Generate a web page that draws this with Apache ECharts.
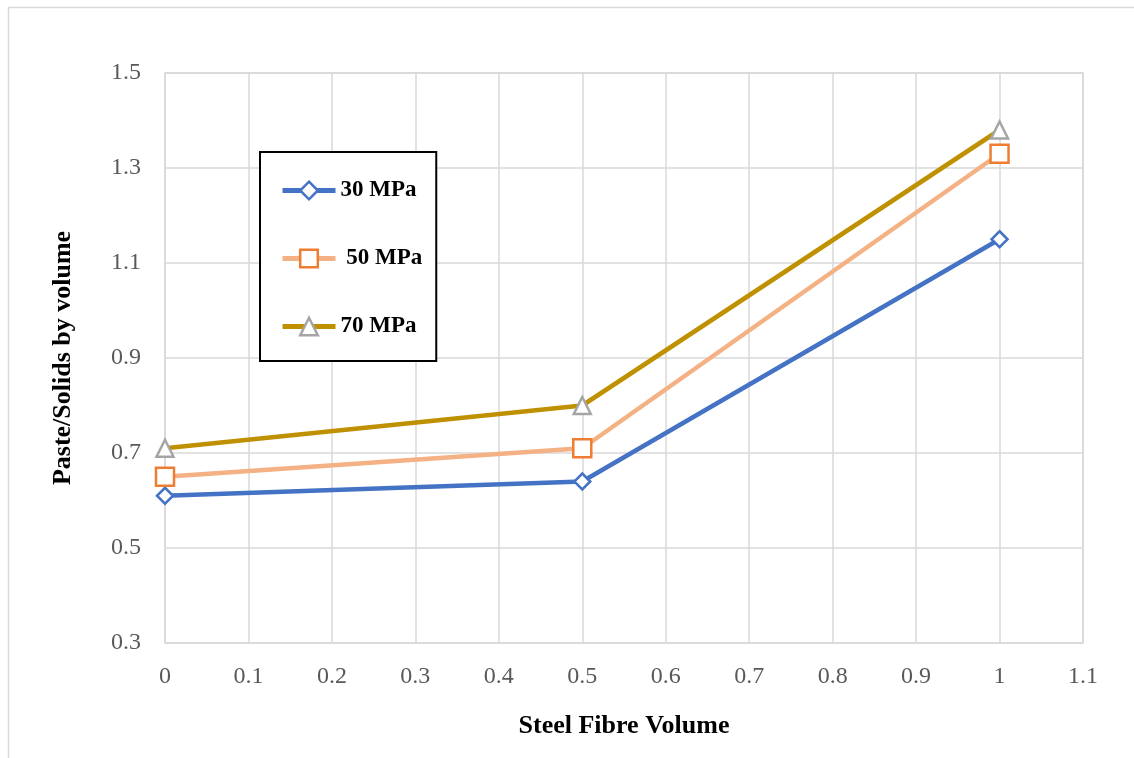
<!DOCTYPE html>
<html>
<head>
<meta charset="utf-8">
<script src="https://cdn.jsdelivr.net/npm/echarts@6/dist/echarts.min.js"></script>
<style>
  html, body { margin: 0; padding: 0; background: #fff; }
  #chart { width: 1134px; height: 758px; }
</style>
</head>
<body>
<div id="chart"></div>
<script>
// Steel fibre volume fraction (x) vs paste/solids ratio by volume (y)
const fibreVolume = [0, 0.5, 1];
const mpa30 = [0.61, 0.64, 1.15];
const mpa50 = [0.65, 0.71, 1.33];
const mpa70 = [0.71, 0.80, 1.38];
const seriesNames = ['30 MPa', ' 50 MPa', '70 MPa'];
const xTickLabels = ['0', '0.1', '0.2', '0.3', '0.4', '0.5', '0.6', '0.7', '0.8', '0.9', '1', '1.1'];
const yTickLabels = ['0.3', '0.5', '0.7', '0.9', '1.1', '1.3', '1.5'];

const serif = '"Liberation Serif", "Times New Roman", serif';
const pairs = ys => fibreVolume.map((x, i) => [x, ys[i]]);

const chart = echarts.init(document.getElementById('chart'), null, { renderer: 'canvas' });

const lineSeries = (name, data, lineColor, markerColor, symbol, size) => ({
  name,
  type: 'line',
  data: pairs(data),
  symbol,
  symbolSize: size,
  showAllSymbol: true,
  lineStyle: { color: lineColor, width: 4.5 },
  itemStyle: { color: '#ffffff', borderColor: markerColor, borderWidth: 2.5 },
  emphasis: { disabled: true },
  z: 3
});

chart.setOption({
  animation: false,
  backgroundColor: '#ffffff',
  grid: {
    left: 165, top: 73, right: 51, bottom: 115,
    show: true, borderColor: '#d9d9d9', borderWidth: 1.5
  },
  xAxis: {
    type: 'value',
    min: 0, max: 1.1, interval: 0.1,
    name: 'Steel Fibre Volume',
    nameLocation: 'middle',
    nameGap: 70,
    nameTextStyle: { fontFamily: serif, fontWeight: 'bold', fontSize: 26, color: '#000', lineHeight: 26 },
    axisLine: { show: false },
    axisTick: { show: false },
    axisLabel: {
      margin: 22,
      fontFamily: serif, fontSize: 24, color: '#595959',
      formatter: v => xTickLabels[Math.round(v * 10)]
    },
    splitLine: { lineStyle: { color: '#d9d9d9', width: 1.5 } }
  },
  yAxis: {
    type: 'value',
    min: 0.3, max: 1.5, interval: 0.2,
    name: 'Paste/Solids by volume',
    nameLocation: 'middle',
    nameGap: 89,
    nameTextStyle: { fontFamily: serif, fontWeight: 'bold', fontSize: 26, color: '#000', lineHeight: 26 },
    axisLine: { show: false },
    axisTick: { show: false },
    axisLabel: {
      margin: 24,
      fontFamily: serif, fontSize: 24, color: '#595959',
      formatter: v => yTickLabels[Math.round((v - 0.3) / 0.2)]
    },
    splitLine: { lineStyle: { color: '#d9d9d9', width: 1.5 } }
  },
  legend: {
    orient: 'vertical',
    left: 260, top: 152,
    padding: [27, 14, 23, 20],
    itemGap: 45,
    itemWidth: 53,
    itemHeight: 22,
    backgroundColor: '#ffffff',
    borderColor: '#000000',
    borderWidth: 2,
    selectedMode: false,
    lineStyle: { width: 5 },
    itemStyle: { borderWidth: 2.5 },
    textStyle: { fontFamily: serif, fontWeight: 'bold', fontSize: 23, color: '#000' },
    data: seriesNames
  },
  graphic: [
    { type: 'line', shape: { x1: 8, y1: 7.5, x2: 1134, y2: 7.5 }, style: { stroke: '#d9d9d9', lineWidth: 1.5 }, silent: true },
    { type: 'line', shape: { x1: 8.5, y1: 7, x2: 8.5, y2: 758 }, style: { stroke: '#d9d9d9', lineWidth: 1.5 }, silent: true }
  ],
  series: [
    lineSeries(seriesNames[0], mpa30, '#4472c4', '#4472c4', 'diamond', 16),
    lineSeries(seriesNames[1], mpa50, '#f4b183', '#ed7d31', 'rect', 18),
    lineSeries(seriesNames[2], mpa70, '#bf9000', '#a5a5a5', 'triangle', 17)
  ]
});
</script>
</body>
</html>
